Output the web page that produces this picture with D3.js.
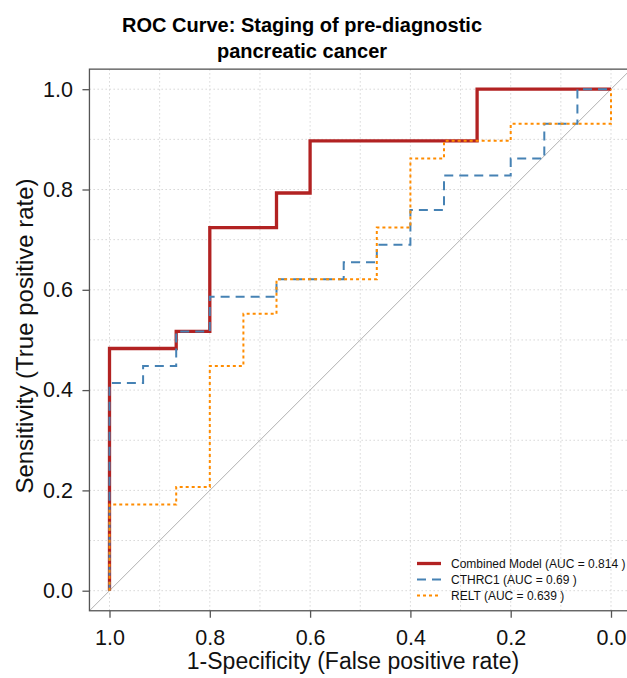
<!DOCTYPE html>
<html>
<head>
<meta charset="utf-8">
<script src="https://cdn.jsdelivr.net/npm/d3@7"></script>
<style>
  body { margin: 0; background: #fff; }
  svg { display: block; font-family: "Liberation Sans", Arial, sans-serif; }
</style>
</head>
<body>
<div id="chart"></div>
<script>
const width = 627;
const height = 678;

// ROC corner points (specificity, sensitivity)
const combinedSpec = [1, 1, 0.867, 0.867, 0.8, 0.8, 0.667, 0.667, 0.6, 0.6, 0.267, 0.267, 0];
const combinedSens = [0, 0.483, 0.483, 0.517, 0.517, 0.724, 0.724, 0.793, 0.793, 0.897, 0.897, 1, 1];

const cthrc1Spec = [1, 1, 0.933, 0.933, 0.867, 0.867, 0.8, 0.8, 0.667, 0.667, 0.533, 0.533, 0.467, 0.467,
  0.4, 0.4, 0.333, 0.333, 0.2, 0.2, 0.133, 0.133, 0.067, 0.067, 0];
const cthrc1Sens = [0, 0.414, 0.414, 0.448, 0.448, 0.517, 0.517, 0.586, 0.586, 0.621, 0.621, 0.655, 0.655, 0.69,
  0.69, 0.759, 0.759, 0.828, 0.828, 0.862, 0.862, 0.931, 0.931, 1, 1];

const reltSpec = [1, 1, 0.867, 0.867, 0.8, 0.8, 0.733, 0.733, 0.667, 0.667, 0.467, 0.467, 0.4, 0.4,
  0.333, 0.333, 0.2, 0.2, 0, 0];
const reltSens = [0, 0.172, 0.172, 0.207, 0.207, 0.448, 0.448, 0.552, 0.552, 0.621, 0.621, 0.724, 0.724, 0.862,
  0.862, 0.897, 0.897, 0.931, 0.931, 1];

const seriesNames = ["Combined Model (AUC = 0.814 )", "CTHRC1 (AUC = 0.69 )", "RELT (AUC = 0.639 )"];
const tickValues = [0, 0.2, 0.4, 0.6, 0.8, 1.0];
const gridValues = d3.range(0, 1.01, 0.1);

const series = [
  { name: seriesNames[0], spec: combinedSpec, sens: combinedSens, color: "#B22222", width: 3.3, dash: null },
  { name: seriesNames[1], spec: cthrc1Spec, sens: cthrc1Sens, color: "#4682B4", width: 2, dash: "9,6" },
  { name: seriesNames[2], spec: reltSpec, sens: reltSens, color: "#FF8C00", width: 2, dash: "3,3" }
];

const x = d3.scaleLinear().domain([1, 0]).range([109.5, 611]);
const y = d3.scaleLinear().domain([0, 1]).range([590.7, 89.2]);

// panel bounds (4% padding around data range)
const px0 = x(1.04), px1 = x(-0.04), py0 = y(1.04), py1 = y(-0.04);

const svg = d3.select("#chart")
  .append("svg")
  .attr("width", width)
  .attr("height", height);

svg.append("rect").attr("width", width).attr("height", height).attr("fill", "#fff");

svg.append("clipPath").attr("id", "panel")
  .append("rect")
  .attr("x", px0).attr("y", py0)
  .attr("width", px1 - px0).attr("height", py1 - py0);

const plot = svg.append("g").attr("clip-path", "url(#panel)");

// grid
plot.selectAll(".vgrid")
  .data(gridValues)
  .enter()
  .append("line")
  .attr("x1", d => x(d)).attr("x2", d => x(d))
  .attr("y1", py0).attr("y2", py1)
  .attr("stroke", "#d6d6d6")
  .attr("stroke-width", 1)
  .attr("stroke-dasharray", "1.5,2.5");

plot.selectAll(".hgrid")
  .data(gridValues)
  .enter()
  .append("line")
  .attr("y1", d => y(d)).attr("y2", d => y(d))
  .attr("x1", px0).attr("x2", px1)
  .attr("stroke", "#d6d6d6")
  .attr("stroke-width", 1)
  .attr("stroke-dasharray", "1.5,2.5");

// chance diagonal
plot.append("line")
  .attr("x1", x(1.1)).attr("y1", y(-0.1))
  .attr("x2", x(-0.1)).attr("y2", y(1.1))
  .attr("stroke", "#b0b0b0")
  .attr("stroke-width", 1);

const line = d3.line()
  .x(d => x(d[0]))
  .y(d => y(d[1]));

series.forEach(s => {
  plot.append("path")
    .datum(d3.zip(s.spec, s.sens))
    .attr("d", line)
    .attr("fill", "none")
    .attr("stroke", s.color)
    .attr("stroke-width", s.width)
    .attr("stroke-dasharray", s.dash);
});

// panel border
svg.append("rect")
  .attr("x", px0).attr("y", py0)
  .attr("width", px1 - px0).attr("height", py1 - py0)
  .attr("fill", "none")
  .attr("stroke", "#555")
  .attr("stroke-width", 1.3);

// axes
const xAxis = svg.append("g")
  .attr("transform", `translate(0,${py1})`)
  .call(d3.axisBottom(x).tickValues(tickValues).tickFormat(d3.format(".1f"))
    .tickSize(7).tickSizeOuter(0).tickPadding(12));
xAxis.select(".domain").remove();

const yAxis = svg.append("g")
  .attr("transform", `translate(${px0},0)`)
  .call(d3.axisLeft(y).tickValues(tickValues).tickFormat(d3.format(".1f"))
    .tickSize(7).tickSizeOuter(0).tickPadding(9.5));
yAxis.select(".domain").remove();

svg.selectAll(".tick line").attr("stroke", "#555").attr("stroke-width", 1.3);
svg.selectAll(".tick text")
  .attr("font-size", "21.5px")
  .attr("font-family", "Liberation Sans, Arial, sans-serif")
  .attr("fill", "#111");

// axis titles
svg.append("text")
  .attr("x", 353)
  .attr("y", 669)
  .attr("text-anchor", "middle")
  .attr("font-size", "23px")
  .attr("fill", "#111")
  .text("1-Specificity (False positive rate)");

svg.append("text")
  .attr("transform", "translate(33,336) rotate(-90)")
  .attr("text-anchor", "middle")
  .attr("font-size", "24px")
  .attr("fill", "#111")
  .text("Sensitivity (True positive rate)");

// title
const title = svg.append("text")
  .attr("text-anchor", "middle")
  .attr("font-size", "20px")
  .attr("font-weight", "bold")
  .attr("fill", "#000");
title.append("tspan").attr("x", 302).attr("y", 32).text("ROC Curve: Staging of pre-diagnostic");
title.append("tspan").attr("x", 302).attr("y", 58).text("pancreatic cancer");

// legend
const legend = svg.append("g");
series.forEach((s, i) => {
  const ly = 563.5 + i * 16;
  legend.append("line")
    .attr("x1", 417).attr("x2", 441)
    .attr("y1", ly).attr("y2", ly)
    .attr("stroke", s.color)
    .attr("stroke-width", s.width)
    .attr("stroke-dasharray", s.dash);
  legend.append("text")
    .attr("x", 451)
    .attr("y", ly)
    .attr("dy", "0.35em")
    .attr("font-size", "12px")
    .attr("fill", "#111")
    .text(s.name);
});
</script>
</body>
</html>
